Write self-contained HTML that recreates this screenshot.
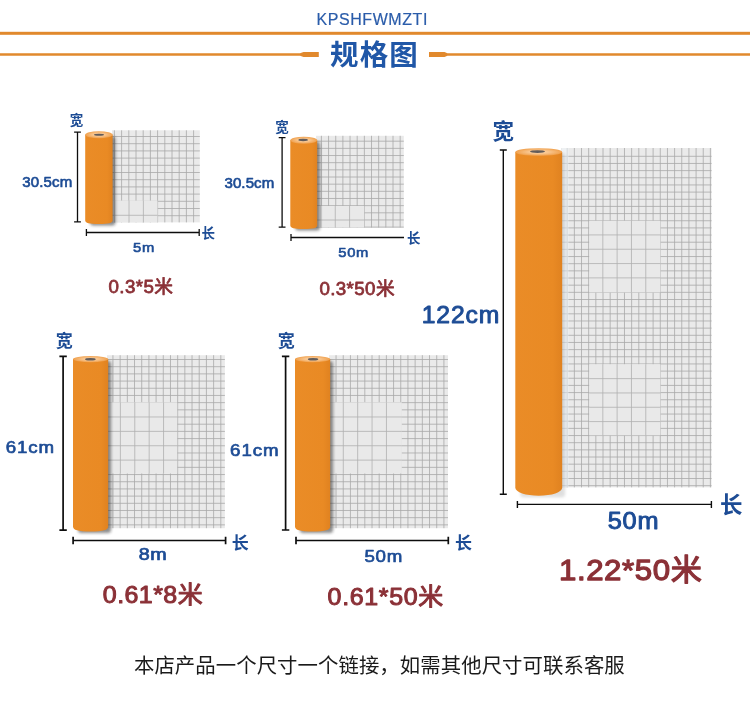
<!DOCTYPE html>
<html lang="zh-CN">
<head>
<meta charset="utf-8">
<title>规格图</title>
<style>
html,body{margin:0;padding:0;background:#fff;}
body{width:750px;height:725px;overflow:hidden;font-family:"Liberation Sans", "Noto Sans CJK SC", sans-serif;}
svg{display:block;font-family:"Liberation Sans", "Noto Sans CJK SC", sans-serif;}
text{white-space:pre;}
</style>
</head>
<body>
<svg width="750" height="725" viewBox="0 0 750 725">
<defs>
<linearGradient id="rg" x1="0" x2="1" y1="0" y2="0">
<stop offset="0" stop-color="#ea8c27"/><stop offset="0.8" stop-color="#e98a24"/><stop offset="1" stop-color="#e08220"/>
</linearGradient>
<radialGradient id="tg" cx="0.5" cy="0.5" r="0.5"><stop offset="0" stop-color="#fbd6aa"/><stop offset="0.45" stop-color="#f8c48c"/><stop offset="1" stop-color="#f0a04c"/></radialGradient>
<filter id="sh" x="-40%" y="-10%" width="200%" height="130%"><feGaussianBlur stdDeviation="1.6"/></filter>
<filter id="hb" x="-30%" y="-60%" width="160%" height="220%"><feGaussianBlur stdDeviation="0.5"/></filter>
</defs>
<rect x="0" y="31.8" width="750" height="3" fill="#e1892d"/>
<path d="M0 53.3H300L303.5 52H318.8V57H303.5L300 55.7H0Z" fill="#e1892d"/>
<path d="M750 53.3H447.5L444.5 52H429V57H444.5L447.5 55.7H750Z" fill="#e1892d"/>
<rect x="112" y="130.3" width="87.8" height="92.1" fill="#eaeaea"/>
<path d="M114.4 130.3V222.4M121.6 130.3V222.4M128.8 130.3V222.4M136 130.3V222.4M143.2 130.3V222.4M150.4 130.3V222.4M157.6 130.3V222.4M164.8 130.3V222.4M172 130.3V222.4M179.2 130.3V222.4M186.4 130.3V222.4M193.6 130.3V222.4M112 136.5H199.8M112 143.7H199.8M112 150.9H199.8M112 158.1H199.8M112 165.3H199.8M112 172.5H199.8M112 179.7H199.8M112 186.9H199.8M112 194.1H199.8M112 201.3H199.8M112 208.5H199.8M112 215.7H199.8" stroke="#a8a8a8" stroke-width="0.8" fill="none"/>
<rect x="112" y="200.6" width="45.5" height="21.8" fill="#e9e9e9"/>
<path d="M114.6 200.6V222.4M129 200.6V222.4M143.4 200.6V222.4M112 215.3H157.5" stroke="#b0b0b0" stroke-width="0.8" fill="none"/>
<rect x="90.2" y="136.2" width="25.2" height="89.3" rx="3" fill="#1a1a1a" opacity="0.5" filter="url(#sh)"/>
<path d="M85.2 134.7V220.5C85.2 223.02 89.04 224 98.9 224C108.76 224 112.6 223.02 112.6 220.5V134.7Z" fill="url(#rg)"/>
<ellipse cx="98.9" cy="134.7" rx="13.7" ry="3.5" fill="url(#tg)"/>
<ellipse cx="99" cy="134.7" rx="5" ry="1.06" fill="#625c5a" filter="url(#hb)"/>
<path d="M77.5 132.2V221.8M74.1 132.2H80.9M74.1 221.8H80.9" stroke="#0d0d0d" stroke-width="1.3" fill="none"/>
<path d="M86.4 232.5H199.2M86.4 229.1V235.9M199.2 229.1V235.9" stroke="#0d0d0d" stroke-width="1.3" fill="none"/>
<rect x="316" y="135.8" width="87.8" height="91.7" fill="#eaeaea"/>
<path d="M321.4 135.8V227.5M328.56 135.8V227.5M335.72 135.8V227.5M342.88 135.8V227.5M350.04 135.8V227.5M357.2 135.8V227.5M364.36 135.8V227.5M371.52 135.8V227.5M378.68 135.8V227.5M385.84 135.8V227.5M393 135.8V227.5M400.16 135.8V227.5M316 141.2H403.8M316 148.36H403.8M316 155.52H403.8M316 162.68H403.8M316 169.84H403.8M316 177H403.8M316 184.16H403.8M316 191.32H403.8M316 198.48H403.8M316 205.64H403.8M316 212.8H403.8M316 219.96H403.8M316 227.12H403.8" stroke="#a8a8a8" stroke-width="0.8" fill="none"/>
<rect x="316" y="206" width="48.2" height="21.5" fill="#e9e9e9"/>
<path d="M320.95 206V227.5M335.27 206V227.5M349.59 206V227.5M316 220.02H364.2" stroke="#b0b0b0" stroke-width="0.8" fill="none"/>
<rect x="295.3" y="141.7" width="24.7" height="88.8" rx="3" fill="#1a1a1a" opacity="0.5" filter="url(#sh)"/>
<path d="M290.3 140.2V225.5C290.3 228.02 294.07 229 303.75 229C313.43 229 317.2 228.02 317.2 225.5V140.2Z" fill="url(#rg)"/>
<ellipse cx="303.75" cy="140.2" rx="13.45" ry="3.5" fill="url(#tg)"/>
<ellipse cx="303.15" cy="140" rx="4.85" ry="1.14" fill="#625c5a" filter="url(#hb)"/>
<path d="M282.1 137.6V227.2M278.7 137.6H285.5M278.7 227.2H285.5" stroke="#0d0d0d" stroke-width="1.3" fill="none"/>
<path d="M291 237.5H404M291 234.1V240.9" stroke="#0d0d0d" stroke-width="1.3" fill="none"/>
<rect x="107" y="355.2" width="117.9" height="173" fill="#eaeaea"/>
<path d="M112.95 355.2V528.2M120.14 355.2V528.2M127.33 355.2V528.2M134.52 355.2V528.2M141.71 355.2V528.2M148.9 355.2V528.2M156.09 355.2V528.2M163.28 355.2V528.2M170.47 355.2V528.2M177.66 355.2V528.2M184.85 355.2V528.2M192.04 355.2V528.2M199.23 355.2V528.2M206.42 355.2V528.2M213.61 355.2V528.2M220.8 355.2V528.2M107 359.5H224.9M107 366.69H224.9M107 373.88H224.9M107 381.07H224.9M107 388.26H224.9M107 395.45H224.9M107 402.64H224.9M107 409.83H224.9M107 417.02H224.9M107 424.21H224.9M107 431.4H224.9M107 438.59H224.9M107 445.78H224.9M107 452.97H224.9M107 460.16H224.9M107 467.35H224.9M107 474.54H224.9M107 481.73H224.9M107 488.92H224.9M107 496.11H224.9M107 503.3H224.9M107 510.49H224.9M107 517.68H224.9M107 524.87H224.9" stroke="#a8a8a8" stroke-width="0.8" fill="none"/>
<rect x="107" y="402.3" width="70.2" height="71.2" fill="#e9e9e9"/>
<path d="M120.4 402.3V473.5M134.78 402.3V473.5M149.16 402.3V473.5M163.54 402.3V473.5M107 416.98H177.2M107 431.36H177.2M107 445.74H177.2M107 460.12H177.2" stroke="#b0b0b0" stroke-width="0.8" fill="none"/>
<rect x="78" y="361" width="33" height="172.1" rx="3" fill="#1a1a1a" opacity="0.5" filter="url(#sh)"/>
<path d="M73 359.1V526.6C73 530.2 77.93 531.6 90.6 531.6C103.27 531.6 108.2 530.2 108.2 526.6V359.1Z" fill="url(#rg)"/>
<ellipse cx="90.6" cy="359.1" rx="17.6" ry="3.1" fill="url(#tg)"/>
<ellipse cx="90.4" cy="359.2" rx="5.4" ry="1.23" fill="#625c5a" filter="url(#hb)"/>
<path d="M63.1 356.3V530.2M59.4 356.3H66.8M59.4 530.2H66.8" stroke="#0d0d0d" stroke-width="1.7" fill="none"/>
<path d="M73.1 540.5H225.6M73.1 536.8V544.2M225.6 536.8V544.2" stroke="#0d0d0d" stroke-width="1.7" fill="none"/>
<rect x="329" y="355.2" width="119" height="173" fill="#eaeaea"/>
<path d="M336.05 355.2V528.2M343.24 355.2V528.2M350.43 355.2V528.2M357.62 355.2V528.2M364.81 355.2V528.2M372 355.2V528.2M379.19 355.2V528.2M386.38 355.2V528.2M393.57 355.2V528.2M400.76 355.2V528.2M407.95 355.2V528.2M415.14 355.2V528.2M422.33 355.2V528.2M429.52 355.2V528.2M436.71 355.2V528.2M443.9 355.2V528.2M329 359.5H448M329 366.69H448M329 373.88H448M329 381.07H448M329 388.26H448M329 395.45H448M329 402.64H448M329 409.83H448M329 417.02H448M329 424.21H448M329 431.4H448M329 438.59H448M329 445.78H448M329 452.97H448M329 460.16H448M329 467.35H448M329 474.54H448M329 481.73H448M329 488.92H448M329 496.11H448M329 503.3H448M329 510.49H448M329 517.68H448M329 524.87H448" stroke="#a8a8a8" stroke-width="0.8" fill="none"/>
<rect x="329" y="402.3" width="72.8" height="71.2" fill="#e9e9e9"/>
<path d="M343.3 402.3V473.5M357.68 402.3V473.5M372.06 402.3V473.5M386.44 402.3V473.5M329 416.98H401.8M329 431.36H401.8M329 445.74H401.8M329 460.12H401.8" stroke="#b0b0b0" stroke-width="0.8" fill="none"/>
<rect x="300" y="361" width="33" height="172.1" rx="3" fill="#1a1a1a" opacity="0.5" filter="url(#sh)"/>
<path d="M295 359.1V526.6C295 530.2 299.93 531.6 312.6 531.6C325.27 531.6 330.2 530.2 330.2 526.6V359.1Z" fill="url(#rg)"/>
<ellipse cx="312.6" cy="359.1" rx="17.6" ry="3.1" fill="url(#tg)"/>
<ellipse cx="313.05" cy="359.2" rx="5.25" ry="1.23" fill="#625c5a" filter="url(#hb)"/>
<path d="M285.6 356.3V530M281.9 356.3H289.3M281.9 530H289.3" stroke="#0d0d0d" stroke-width="1.7" fill="none"/>
<path d="M296 540.5H448.3M296 536.8V544.2M448.3 536.8V544.2" stroke="#0d0d0d" stroke-width="1.7" fill="none"/>
<rect x="561" y="148" width="150.6" height="339.4" fill="#eaeaea"/>
<path d="M567.2 148V487.4M574.36 148V487.4M581.52 148V487.4M588.68 148V487.4M595.84 148V487.4M603 148V487.4M610.16 148V487.4M617.32 148V487.4M624.48 148V487.4M631.64 148V487.4M638.8 148V487.4M645.96 148V487.4M653.12 148V487.4M660.28 148V487.4M667.44 148V487.4M674.6 148V487.4M681.76 148V487.4M688.92 148V487.4M696.08 148V487.4M703.24 148V487.4M710.4 148V487.4M561 156.3H711.6M561 163.46H711.6M561 170.62H711.6M561 177.78H711.6M561 184.94H711.6M561 192.1H711.6M561 199.26H711.6M561 206.42H711.6M561 213.58H711.6M561 220.74H711.6M561 227.9H711.6M561 235.06H711.6M561 242.22H711.6M561 249.38H711.6M561 256.54H711.6M561 263.7H711.6M561 270.86H711.6M561 278.02H711.6M561 285.18H711.6M561 292.34H711.6M561 299.5H711.6M561 306.66H711.6M561 313.82H711.6M561 320.98H711.6M561 328.14H711.6M561 335.3H711.6M561 342.46H711.6M561 349.62H711.6M561 356.78H711.6M561 363.94H711.6M561 371.1H711.6M561 378.26H711.6M561 385.42H711.6M561 392.58H711.6M561 399.74H711.6M561 406.9H711.6M561 414.06H711.6M561 421.22H711.6M561 428.38H711.6M561 435.54H711.6M561 442.7H711.6M561 449.86H711.6M561 457.02H711.6M561 464.18H711.6M561 471.34H711.6M561 478.5H711.6M561 485.66H711.6" stroke="#a8a8a8" stroke-width="0.8" fill="none"/>
<rect x="589.2" y="220.8" width="71.2" height="71.6" fill="#e9e9e9"/>
<path d="M602.82 220.8V292.4M617.14 220.8V292.4M631.46 220.8V292.4M645.78 220.8V292.4M589.2 234.92H660.4M589.2 249.24H660.4M589.2 263.56H660.4M589.2 277.88H660.4" stroke="#b0b0b0" stroke-width="0.8" fill="none"/>
<rect x="589.2" y="364.2" width="71.2" height="71.1" fill="#e9e9e9"/>
<path d="M602.82 364.2V435.3M617.14 364.2V435.3M631.46 364.2V435.3M645.78 364.2V435.3M589.2 378.62H660.4M589.2 392.94H660.4M589.2 407.26H660.4M589.2 421.58H660.4" stroke="#b0b0b0" stroke-width="0.8" fill="none"/>
<rect x="562" y="148" width="6.5" height="339.4" fill="#f1f6fa" opacity="0.55"/>
<rect x="520.3" y="153.2" width="44.7" height="344.1" rx="3" fill="#1a1a1a" opacity="0.14" filter="url(#sh)"/>
<path d="M515.3 152V487.8C515.3 492.22 525.8 495.8 538.75 495.8C551.7 495.8 562.2 492.22 562.2 487.8V152Z" fill="url(#rg)"/>
<ellipse cx="538.75" cy="152" rx="23.45" ry="3.8" fill="url(#tg)"/>
<ellipse cx="537.5" cy="151.55" rx="7.5" ry="1.36" fill="#625c5a" filter="url(#hb)"/>
<path d="M503.3 150V494.2M499.8 150H506.8M499.8 494.2H506.8" stroke="#0d0d0d" stroke-width="1.4" fill="none"/>
<path d="M517.4 504.4H711.4M517.4 500.9V507.9M711.4 500.9V507.9" stroke="#0d0d0d" stroke-width="1.4" fill="none"/>
<text x="316.48" y="24.9" font-size="16" fill="#2a5caa" font-weight="400" letter-spacing="0.57" stroke="#2a5caa" stroke-width="0.19" stroke-linejoin="round">KPSHFWMZTI</text>
<text x="330.05" y="64.58" font-size="28.5" fill="#2057a7" font-weight="700" letter-spacing="1.12">规格图</text>
<text x="69.75" y="125.12" font-size="13.5" fill="#1d4c95" font-weight="700">宽</text>
<text x="201.48" y="238.2" font-size="13.5" fill="#1d4c95" font-weight="700">长</text>
<text transform="translate(22.13 186.9) scale(1.09 1)" font-size="13.8" fill="#1d4c95" font-weight="400" letter-spacing="0.17" stroke="#1d4c95" stroke-width="0.62" stroke-linejoin="round">30.5cm</text>
<text transform="translate(133.12 251.7) scale(1.1 1)" font-size="13.4" fill="#1d4c95" font-weight="400" letter-spacing="0.64" stroke="#1d4c95" stroke-width="0.6" stroke-linejoin="round">5m</text>
<text transform="translate(108.5 292.8) scale(1.04 1)" font-size="18" fill="#8b3137" font-weight="400" letter-spacing="0.39" stroke="#8b3137" stroke-width="0.76" stroke-linejoin="round">0.3*5米</text>
<text x="275.15" y="132.18" font-size="13.5" fill="#1d4c95" font-weight="700">宽</text>
<text x="407.12" y="243.25" font-size="13.5" fill="#1d4c95" font-weight="700">长</text>
<text transform="translate(224.45 187.8) scale(1.09 1)" font-size="13.8" fill="#1d4c95" font-weight="400" letter-spacing="0.09" stroke="#1d4c95" stroke-width="0.62" stroke-linejoin="round">30.5cm</text>
<text transform="translate(338.35 256.7) scale(1.1 1)" font-size="13.4" fill="#1d4c95" font-weight="400" letter-spacing="0.57" stroke="#1d4c95" stroke-width="0.6" stroke-linejoin="round">50m</text>
<text transform="translate(319.38 295) scale(1.04 1)" font-size="18" fill="#8b3137" font-weight="400" letter-spacing="0.39" stroke="#8b3137" stroke-width="0.76" stroke-linejoin="round">0.3*50米</text>
<text x="55.65" y="347.1" font-size="17" fill="#1d4c95" font-weight="700">宽</text>
<text x="231.82" y="548.62" font-size="17" fill="#1d4c95" font-weight="700">长</text>
<text transform="translate(5.8 452.5) scale(1.1 1)" font-size="17" fill="#1d4c95" font-weight="400" letter-spacing="0.76" stroke="#1d4c95" stroke-width="0.68" stroke-linejoin="round">61cm</text>
<text transform="translate(138.75 559.7) scale(1.16 1)" font-size="17" fill="#1d4c95" font-weight="400" letter-spacing="0.47" stroke="#1d4c95" stroke-width="0.68" stroke-linejoin="round">8m</text>
<text transform="translate(102.8 602.5) scale(1.04 1)" font-size="24" fill="#8b3137" font-weight="400" letter-spacing="0.44" stroke="#8b3137" stroke-width="1.01" stroke-linejoin="round">0.61*8米</text>
<text x="277.75" y="347.1" font-size="17" fill="#1d4c95" font-weight="700">宽</text>
<text x="454.88" y="548.72" font-size="17" fill="#1d4c95" font-weight="700">长</text>
<text transform="translate(230.02 455.8) scale(1.1 1)" font-size="17" fill="#1d4c95" font-weight="400" letter-spacing="0.88" stroke="#1d4c95" stroke-width="0.68" stroke-linejoin="round">61cm</text>
<text transform="translate(364.52 561.6) scale(1.1 1)" font-size="17" fill="#1d4c95" font-weight="400" letter-spacing="0.61" stroke="#1d4c95" stroke-width="0.68" stroke-linejoin="round">50m</text>
<text transform="translate(327.6 604.5) scale(1.04 1)" font-size="24" fill="#8b3137" font-weight="400" letter-spacing="0.64" stroke="#8b3137" stroke-width="1.01" stroke-linejoin="round">0.61*50米</text>
<text x="492.55" y="139.38" font-size="21.5" fill="#1d4c95" font-weight="700">宽</text>
<text x="719.98" y="512.98" font-size="22.5" fill="#1d4c95" font-weight="700">长</text>
<text transform="translate(421.65 322.5) scale(1.06 1)" font-size="23.3" fill="#1d4c95" font-weight="400" letter-spacing="0.86" stroke="#1d4c95" stroke-width="0.93" stroke-linejoin="round">122cm</text>
<text transform="translate(607.67 529) scale(1.1 1)" font-size="23" fill="#1d4c95" font-weight="400" letter-spacing="0.77" stroke="#1d4c95" stroke-width="0.92" stroke-linejoin="round">50m</text>
<text transform="translate(558.98 579.7) scale(1.04 1)" font-size="30" fill="#8b3137" font-weight="400" letter-spacing="0.57" stroke="#8b3137" stroke-width="1.26" stroke-linejoin="round">1.22*50米</text>
<text x="133.98" y="672.9" font-size="20.4" fill="#1a1a1a" font-weight="400" letter-spacing="0.06">本店产品一个尺寸一个链接，如需其他尺寸可联系客服</text>
</svg>
</body>
</html>
